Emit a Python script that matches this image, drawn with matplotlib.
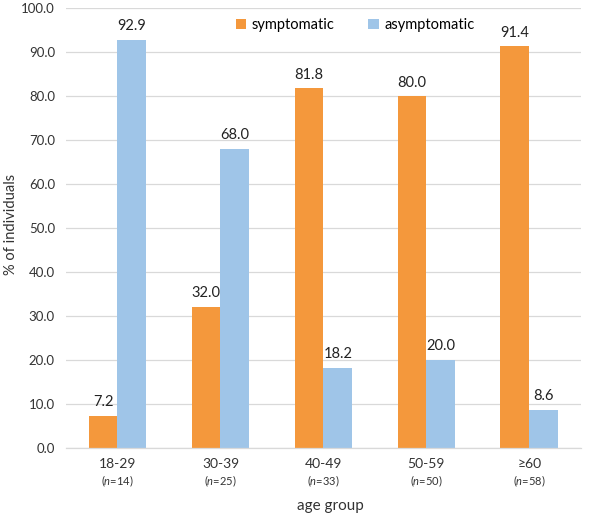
"""
    Share of symptomatic vs asymptomatic individuals per age group.
"""

# ------ Environment Setup ------ #
import numpy as np
import matplotlib
matplotlib.use("Agg")
import matplotlib.pyplot as plt

plt.rcParams['font.family'] = ['Lato', 'DejaVu Sans']
plt.rcParams['mathtext.fontset'] = 'custom'
plt.rcParams['mathtext.it'] = 'Lato:italic'
plt.rcParams['mathtext.rm'] = 'Lato'

# ------ Data ------ #
age_groups = ['18-29', '30-39', '40-49', '50-59', '≥60']
group_sizes = [14, 25, 33, 50, 58]
symptomatic = [7.2, 32.0, 81.8, 80.0, 91.4]
asymptomatic = [92.9, 68.0, 18.2, 20.0, 8.6]

ORANGE = '#F4983C'
BLUE = '#9FC5E8'

# ------ Plotting ------ #
fig = plt.figure(figsize=(6, 5.21), dpi=100)
ax = fig.add_axes([0.11, 0.141, 0.858, 0.843])

x = np.arange(len(age_groups))
width = 0.28

bars_s = ax.bar(x - width / 2, symptomatic, width, color=ORANGE, label='symptomatic')
bars_a = ax.bar(x + width / 2, asymptomatic, width, color=BLUE, label='asymptomatic')

# value labels
for bars in (bars_s, bars_a):
    for b in bars:
        ax.text(b.get_x() + b.get_width() / 2, b.get_height() + 1.5,
                f'{b.get_height():.1f}', ha='center', va='bottom',
                fontsize=10.5, color='#222222')

# axes styling
ax.set_xlim(-0.5, len(age_groups) - 0.5)
ax.set_ylim(0, 100)
ax.set_yticks(np.arange(0, 101, 10))
ax.set_yticklabels([f'{v:.1f}' for v in np.arange(0, 101, 10)], fontsize=9.5, color='#333333')
ax.yaxis.grid(True, color='#D9D9D9', linewidth=0.9)
ax.set_axisbelow(True)
ax.tick_params(axis='y', length=0, pad=8)
for side in ('top', 'right', 'left'):
    ax.spines[side].set_visible(False)
ax.spines['bottom'].set_color('#D9D9D9')
ax.spines['bottom'].set_linewidth(0.9)

# x labels: group + sample size
ax.set_xticks(x)
ax.set_xticklabels([''] * len(x))
ax.tick_params(axis='x', length=0)
for xi, grp, n in zip(x, age_groups, group_sizes):
    ax.text(xi, -2.4, grp, ha='center', va='top', fontsize=10, color='#333333',
            clip_on=False)
    ax.text(xi, -5.9, rf'($\it{{n}}$={n})', ha='center', va='top', fontsize=8,
            color='#333333', clip_on=False)

fig.text(0.018, 0.57, '% of individuals', rotation=90, ha='center', va='center',
         fontsize=10.5, color='#333333')
fig.text(0.55, 0.028, 'age group', ha='center', va='center', fontsize=11, color='#333333')

ax.legend(loc='center', bbox_to_anchor=(0.562, 0.962), ncol=2, frameon=False,
          fontsize=10.5, handlelength=0.7, handleheight=0.7, columnspacing=2.3,
          handletextpad=0.4)

plt.savefig('out.png', dpi=100)
